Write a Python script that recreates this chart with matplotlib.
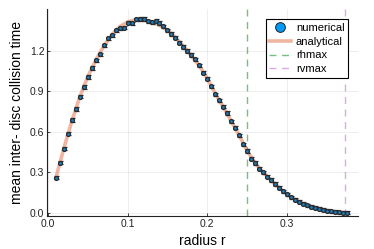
import numpy as np
import matplotlib
matplotlib.use("Agg")
import matplotlib.pyplot as plt
from matplotlib.lines import Line2D

plt.rcParams['font.family'] = ['Liberation Sans', 'DejaVu Sans']

# numerical data (r from 0.01 step 0.005)
r_num = [0.010, 0.015, 0.020, 0.025, 0.030, 0.035, 0.040, 0.045, 0.050, 0.055,
         0.060, 0.065, 0.070, 0.075, 0.080, 0.085, 0.090, 0.095, 0.100, 0.105,
         0.110, 0.115, 0.120, 0.125, 0.130, 0.135, 0.140, 0.145, 0.150, 0.155,
         0.160, 0.165, 0.170, 0.175, 0.180, 0.185, 0.190, 0.195, 0.200, 0.205,
         0.210, 0.215, 0.220, 0.225, 0.230, 0.235, 0.240, 0.245, 0.250, 0.255,
         0.260, 0.265, 0.270, 0.275, 0.280, 0.285, 0.290, 0.295, 0.300, 0.305,
         0.310, 0.315, 0.320, 0.325, 0.330, 0.335, 0.340, 0.345, 0.350, 0.355,
         0.360, 0.365, 0.370, 0.375]
t_num = [0.260, 0.373, 0.476, 0.587, 0.689, 0.770, 0.860, 0.933, 1.007, 1.074,
         1.131, 1.175, 1.242, 1.294, 1.316, 1.353, 1.368, 1.373, 1.410, 1.405,
         1.435, 1.437, 1.437, 1.420, 1.413, 1.424, 1.407, 1.383, 1.353, 1.326,
         1.299, 1.262, 1.230, 1.200, 1.170, 1.139, 1.094, 1.040, 0.995, 0.938,
         0.879, 0.835, 0.786, 0.740, 0.680, 0.630, 0.575, 0.509, 0.459, 0.402,
         0.370, 0.328, 0.301, 0.269, 0.244, 0.215, 0.188, 0.160, 0.137, 0.117,
         0.099, 0.083, 0.069, 0.057, 0.047, 0.038, 0.030, 0.023, 0.017, 0.012,
         0.008, 0.005, 0.002, 0.001]
t_err = [0.012] * len(r_num)

# analytical curve
r_ana = [0.01, 0.02, 0.03, 0.04, 0.05, 0.06, 0.07, 0.08, 0.09, 0.10,
         0.11, 0.12, 0.13, 0.14, 0.15, 0.16, 0.17, 0.18, 0.19, 0.20,
         0.21, 0.22, 0.23, 0.24, 0.25, 0.26, 0.27, 0.28, 0.29, 0.30,
         0.31, 0.32, 0.33, 0.34, 0.35, 0.36, 0.37, 0.375]
t_ana = [0.26, 0.48, 0.68, 0.86, 1.01, 1.13, 1.235, 1.32, 1.38, 1.415,
         1.432, 1.43, 1.415, 1.39, 1.355, 1.30, 1.235, 1.165, 1.09, 0.995,
         0.885, 0.785, 0.68, 0.575, 0.46, 0.37, 0.30, 0.243, 0.188, 0.137,
         0.099, 0.069, 0.047, 0.030, 0.017, 0.008, 0.002, 0.0]

rhmax = 0.25
rvmax = 0.3725

xticks = [0.0, 0.1, 0.2, 0.3]
yticks = [0.0, 0.3, 0.6, 0.9, 1.2]

fig = plt.figure(figsize=(3.74, 2.49), dpi=100)
ax = fig.add_axes([0.126, 0.133, 0.831, 0.831])

ax.plot(r_ana, t_ana, color='#E36F47', alpha=0.5, lw=2.6, label='analytical', zorder=2)
ax.errorbar(r_num, t_num, yerr=t_err, fmt='o', ms=2.8, mfc='#1a80c8', mec='#2a2a2a',
            mew=0.9, ecolor='#2a2a2a', elinewidth=0.7, capsize=1.8, capthick=0.7,
            label='numerical', zorder=3)
ax.axvline(rhmax, color='#3EA44E', ls=(0, (5, 4)), lw=1.0, alpha=0.7, label='rhmax', zorder=1)
ax.axvline(rvmax, color='#C371D2', ls=(0, (5, 4)), lw=1.0, alpha=0.6, label='rvmax', zorder=1)

ax.set_xlim(-0.001, 0.389)
ax.set_ylim(-0.022, 1.511)
ax.set_xticks(xticks)
ax.set_yticks(yticks)
ax.set_xticklabels([f'{v:.1f}' for v in xticks])
ax.set_yticklabels([f'{v:.1f}' for v in yticks])
ax.tick_params(direction='in', length=2.5, width=0.6, labelsize=7.5, pad=2, colors='#222222')
ax.grid(True, color='black', alpha=0.08, lw=0.6)
for s in ['top', 'right']:
    ax.spines[s].set_visible(False)
for s in ['left', 'bottom']:
    ax.spines[s].set_linewidth(0.8)
    ax.spines[s].set_color('#222222')

ax.set_xlabel('radius r', fontsize=10, labelpad=4)
ax.set_ylabel('mean inter- disc collision time', fontsize=10, labelpad=4)

h_num = Line2D([], [], marker='o', ls='none', ms=7, mfc='#009AFA', mec='#222222', mew=0.7)
h_ana = Line2D([], [], color='#E36F47', alpha=0.5, lw=2.6)
h_rh = Line2D([], [], color='#3EA44E', ls=(0, (5, 4)), lw=1.0, alpha=0.7)
h_rv = Line2D([], [], color='#C371D2', ls=(0, (5, 4)), lw=1.0, alpha=0.6)
leg = ax.legend([h_num, h_ana, h_rh, h_rv],
                ['numerical', 'analytical', 'rhmax', 'rvmax'],
                loc='upper left', bbox_to_anchor=(0.704, 0.95), fontsize=8,
                frameon=True, fancybox=False, framealpha=1, edgecolor='black',
                handlelength=2.0, handletextpad=0.4, borderpad=0.3, labelspacing=0.35,
                borderaxespad=0)
leg.get_frame().set_linewidth(0.8)

fig.savefig('out.png', dpi=100)
